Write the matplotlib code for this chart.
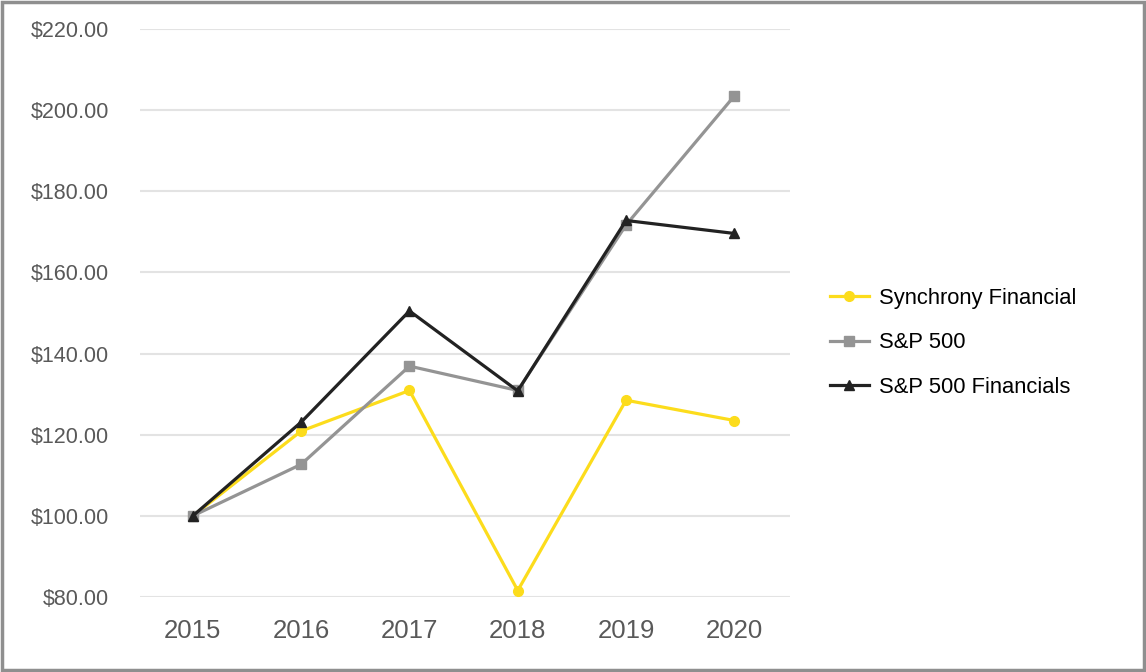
import numpy as np
import matplotlib
matplotlib.use("Agg")
import matplotlib.pyplot as plt
from matplotlib.patches import Rectangle
from matplotlib.ticker import FuncFormatter

years = [2015, 2016, 2017, 2018, 2019, 2020]
synchrony = [100.0, 120.9, 130.9, 81.6, 128.5, 123.5]
sp500 = [100.0, 112.7, 136.9, 130.9, 171.7, 203.5]
sp500_fin = [100.0, 123.1, 150.5, 130.8, 172.8, 169.6]

plt.rcParams['font.family'] = ['Liberation Sans', 'DejaVu Sans']

fig = plt.figure(figsize=(11.46, 6.72), dpi=100)
ax = fig.add_axes([0.122, 0.1116, 0.567, 0.8453])

x = np.arange(len(years))
ax.plot(x, synchrony, color='#FCDC1C', lw=2.3, marker='o', ms=7,
        label='Synchrony Financial', zorder=3)
ax.plot(x, sp500, color='#949494', lw=2.3, marker='s', ms=7,
        label='S&P 500', zorder=3)
ax.plot(x, sp500_fin, color='#222222', lw=2.3, marker='^', ms=7.5,
        label='S&P 500 Financials', zorder=4)

ax.set_xlim(-0.49, 5.51)
ax.set_ylim(80, 220)
ax.set_yticks(np.arange(80, 221, 20))
ax.yaxis.set_major_formatter(FuncFormatter(lambda v, p: '${:.2f}'.format(v)))
ax.set_xticks(x)
ax.set_xticklabels([str(y) for y in years])

ax.grid(axis='y', color='#e3e3e3', lw=1.5)
ax.set_axisbelow(True)
for s in ax.spines.values():
    s.set_visible(False)
ax.tick_params(axis='y', length=0, pad=22, labelsize=15.5, labelcolor='#595959')
ax.tick_params(axis='x', length=0, pad=16, labelsize=18.5, labelcolor='#595959')

fig.legend(loc='center left', bbox_to_anchor=(0.7245, 0.4896), frameon=False,
           fontsize=15.8, handlelength=1.75, handletextpad=0.45,
           labelspacing=1.07, borderpad=0, borderaxespad=0)

fig.patches.append(Rectangle((0.0015, 0.0025), 0.997, 0.995, transform=fig.transFigure,
                             fill=False, edgecolor='#8f8f8f', lw=2.5))

plt.savefig('out.png', dpi=100)
